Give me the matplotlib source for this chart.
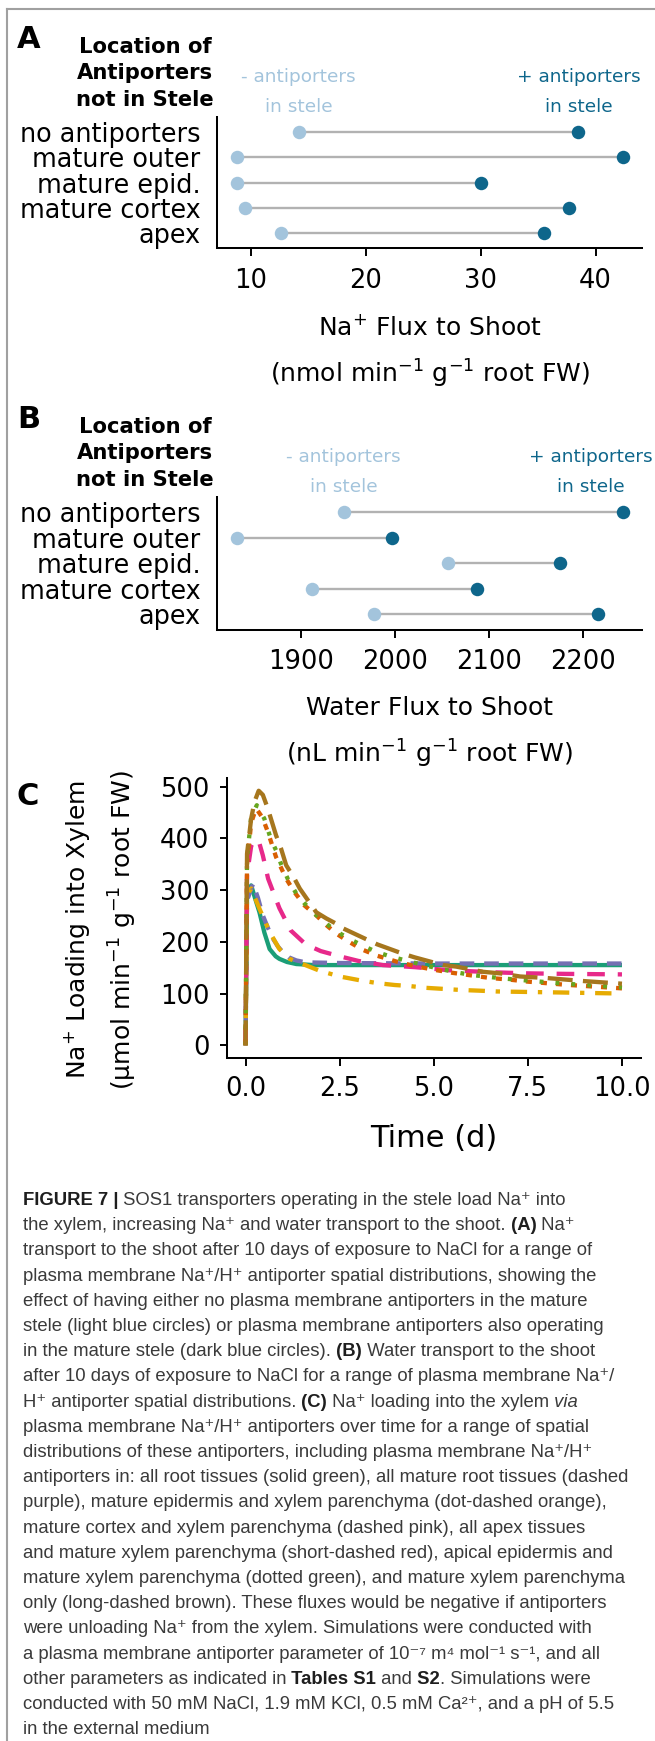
import matplotlib
matplotlib.use('Agg')
import matplotlib.pyplot as plt
from matplotlib import transforms
from matplotlib.lines import Line2D

W, H = 655, 1741
LIGHT, DARK, SEG = '#a3c4dc', '#0e668b', '#b2b2b2'

# ---- panels A / B: flux after 10 d, without / with antiporters in stele
rows = ['no antiporters', 'mature outer', 'mature epid.', 'mature cortex', 'apex']
na_without = [14.15, 8.75, 8.75, 9.52, 12.58]
na_with = [38.5, 42.35, 30.03, 37.7, 35.53]
water_without = [1945.0, 1830.9, 2056.0, 1911.6, 1977.1]
water_with = [2241.8, 1996.3, 2175.0, 2087.2, 2215.9]

# ---- panel C: Na+ loading into xylem over time (d)
t_all = [0, 0.04, 0.15, 0.25, 0.37, 0.5, 0.64, 0.8, 0.9, 1.1, 1.35, 1.6, 1.8, 2.5, 5.0, 7.5, 10.0]
v_all = [0, 290, 309, 285, 257, 218, 186, 172, 167, 161, 157, 156, 155, 155, 155, 155, 155]
t_mat = [0, 0.04, 0.2, 0.33, 0.46, 0.6, 0.73, 0.86, 0.99, 1.15, 1.35, 1.55, 1.8, 2.5, 5.0, 7.5, 10.0]
v_mat = [0, 280, 312, 285, 251, 226, 206, 191, 180, 170, 164, 161, 160, 159, 158, 158, 158]
t_epi = [0, 0.04, 0.15, 0.37, 0.64, 0.9, 1.17, 1.52, 1.97, 2.5, 3.08, 3.52, 3.96, 4.36, 4.8,
         5.25, 5.69, 6.22, 6.67, 7.1, 8.4, 10.0]
v_epi = [0, 290, 303, 264, 219, 186, 167, 157, 144, 133, 125, 120, 116.5, 114.5, 111,
         109, 107, 105.5, 104, 103.5, 102, 100]
t_cor = [0, 0.04, 0.15, 0.25, 0.37, 0.46, 0.6, 0.9, 1.2, 1.6, 2.0, 2.5, 3.0, 3.65, 4.5,
         5.4, 6.6, 7.5, 8.5, 10.0]
v_cor = [0, 330, 385, 398, 390, 367, 322, 265, 222, 195, 182, 172, 163, 155, 151,
         145, 141, 139, 138, 137]
t_apx = [0, 0.04, 0.15, 0.28, 0.45, 0.59, 0.81, 1.08, 1.3, 1.57, 1.88, 2.15, 2.41, 2.68,
         3.1, 3.5, 4.0, 4.5, 5.0, 5.5, 6.0, 6.5, 7.0, 7.5, 8.5, 10.0]
v_apx = [0, 350, 430, 458, 440, 413, 364, 322, 296, 270, 251, 232, 216, 203,
         185, 173, 162, 153, 146, 140, 135, 130, 127, 123, 117, 110]
t_ape = [0, 0.04, 0.15, 0.3, 0.5, 0.68, 0.81, 0.94, 1.12, 1.35, 1.57, 1.84, 2.1, 2.37,
         2.75, 3.1, 3.46, 3.83, 4.25, 4.67, 5.09, 5.53, 5.98, 6.43, 6.86, 7.5, 8.5, 10.0]
v_ape = [0, 360, 442, 464, 438, 397, 377, 351, 322, 293, 274, 254, 238, 222,
         206, 193, 181, 172, 164, 156, 149, 142, 136, 132.5, 129, 125, 119, 112]
t_xp = [0, 0.04, 0.15, 0.24, 0.35, 0.46, 0.59, 0.81, 0.94, 1.08, 1.3, 1.44, 1.66, 1.88,
        2.15, 2.41, 2.59, 3.0, 3.5, 4.18, 4.49, 5.25, 5.6, 6.31, 6.76, 7.29, 8.0, 9.0, 10.0]
v_xp = [0, 370, 438, 471, 492, 484, 458, 406, 381, 348, 322, 303, 280, 257,
        245, 235, 226, 212, 195, 177, 170, 155, 152, 142, 139, 133, 130, 124, 119]

series = [(t_all, v_all), (t_mat, v_mat), (t_epi, v_epi), (t_cor, v_cor),
          (t_apx, v_apx), (t_ape, v_ape), (t_xp, v_xp)]
styles = [('#1B9E77', '-'), ('#7570B3', (0, (3.4, 2.3))), ('#E6AB02', (0, (3.8, 2.5, 1.0, 2.5))),
          ('#E7298A', (0, (4.1, 3.0))), ('#D95F02', (0, (1.4, 2.1))),
          ('#66A61E', (0, (0.9, 2.8))), ('#A6761D', (0, (5.8, 2.4)))]

caption = [
    [('FIGURE 7 |', 'b'), (' SOS1 transporters operating in the stele load Na⁺ into', 'n')],
    [('the xylem, increasing Na⁺ and water transport to the shoot.', 'n'), (' (A)', 'b'), (' Na⁺', 'n')],
    [('transport to the shoot after 10 days of exposure to NaCl for a range of', 'n')],
    [('plasma membrane Na⁺/H⁺ antiporter spatial distributions, showing the', 'n')],
    [('effect of having either no plasma membrane antiporters in the mature', 'n')],
    [('stele (light blue circles) or plasma membrane antiporters also operating', 'n')],
    [('in the mature stele (dark blue circles).', 'n'), (' (B)', 'b'), (' Water transport to the shoot', 'n')],
    [('after 10 days of exposure to NaCl for a range of plasma membrane Na⁺/', 'n')],
    [('H⁺ antiporter spatial distributions.', 'n'), (' (C)', 'b'),
     (' Na⁺ loading into the xylem', 'n'), (' via', 'i')],
    [('plasma membrane Na⁺/H⁺ antiporters over time for a range of spatial', 'n')],
    [('distributions of these antiporters, including plasma membrane Na⁺/H⁺', 'n')],
    [('antiporters in: all root tissues (solid green), all mature root tissues (dashed', 'n')],
    [('purple), mature epidermis and xylem parenchyma (dot-dashed orange),', 'n')],
    [('mature cortex and xylem parenchyma (dashed pink), all apex tissues', 'n')],
    [('and mature xylem parenchyma (short-dashed red), apical epidermis and', 'n')],
    [('mature xylem parenchyma (dotted green), and mature xylem parenchyma', 'n')],
    [('only (long-dashed brown). These fluxes would be negative if antiporters', 'n')],
    [('were unloading Na⁺ from the xylem. Simulations were conducted with', 'n')],
    [('a plasma membrane antiporter parameter of 10⁻⁷ m⁴ mol⁻¹ s⁻¹, and all', 'n')],
    [('other parameters as indicated in', 'n'), (' Tables S1', 'b'), (' and', 'n'),
     (' S2', 'b'), ('. Simulations were', 'n')],
    [('conducted with 50 mM NaCl, 1.9 mM KCl, 0.5 mM Ca²⁺, and a pH of 5.5', 'n')],
    [('in the external medium', 'n')],
]

plt.rcParams['font.family'] = ['DejaVu Sans']
plt.rcParams['mathtext.fontset'] = 'dejavusans'

fig = plt.figure(figsize=(W / 100, H / 100), dpi=100)


def box(l, t, r, b):
    return [l / W, 1 - b / H, (r - l) / W, (b - t) / H]


def ftext(x, y, s, **kw):
    kw.setdefault('va', 'baseline')
    return fig.text(x / W, 1 - y / H, s, **kw)


def style_axes(ax):
    for side in ('top', 'right'):
        ax.spines[side].set_visible(False)
    for side in ('left', 'bottom'):
        ax.spines[side].set_linewidth(1.45)
    ax.patch.set_alpha(0)


def dumbbell(rect, lo, hi, dy, letter, lab1, lab2, plus_x):
    ax = fig.add_axes(box(*rect))
    y = list(range(len(rows)))
    ax.hlines(y, lo, hi, color=SEG, lw=1.7, zorder=1)
    ax.plot(lo, y, 'o', ls='none', color=LIGHT, ms=9.7, mec='none', zorder=2)
    ax.plot(hi, y, 'o', ls='none', color=DARK, ms=9.7, mec='none', zorder=2)
    allv = lo + hi
    pad = 0.05 * (max(allv) - min(allv))
    ax.set_xlim(min(allv) - pad, max(allv) + pad)
    ax.set_ylim(len(rows) - 1 + 0.6, -0.6)
    ax.set_yticks(y, rows)
    ax.tick_params(axis='y', length=0, pad=12, labelsize=18.4)
    ax.tick_params(axis='x', length=5.4, width=1.4, pad=8.5, labelsize=18.5)
    style_axes(ax)
    ftext(17, 48 + dy, letter, fontsize=22, fontweight='bold')
    for i, s in enumerate(['Location of', 'Antiporters', 'not in Stele']):
        ftext(145, 52.7 + dy + 26.7 * i, s, fontsize=15.2, fontweight='bold', ha='center')
    tr = transforms.blended_transform_factory(ax.transData, fig.transFigure)
    fig.text(lo[0], 1 - (81.7 + dy) / H, '- antiporters', transform=tr, ha='center',
             va='baseline', color=LIGHT, fontsize=13.3)
    fig.text(lo[0], 1 - (112.3 + dy) / H, 'in stele', transform=tr, ha='center',
             va='baseline', color=LIGHT, fontsize=13.3)
    fig.text(plus_x, 1 - (81.7 + dy) / H, '+ antiporters', transform=tr, ha='center',
             va='baseline', color=DARK, fontsize=13.3)
    fig.text(plus_x, 1 - (112.3 + dy) / H, 'in stele', transform=tr, ha='center',
             va='baseline', color=DARK, fontsize=13.3)
    cx = (rect[0] + rect[2]) / 2
    ftext(cx, 335 + dy, lab1, fontsize=18, ha='center')
    ftext(cx, 382.5 + dy, lab2, fontsize=18, ha='center')
    return ax


dumbbell((217.2, 116.7, 642, 248.3), na_without, na_with, 0, 'A',
         r'Na$^{+}$ Flux to Shoot', r'(nmol min$^{-1}$ g$^{-1}$ root FW)', na_with[0])
dumbbell((217.2, 496.7, 642, 629.5), water_without, water_with, 380, 'B',
         'Water Flux to Shoot', r'(nL min$^{-1}$ g$^{-1}$ root FW)', 2208)

# ---- panel C
axc = fig.add_axes(box(226.7, 778, 640.8, 1058))
for (t, v), (col, ls) in zip(series, styles):
    axc.plot(t, v, color=col, lw=3.1, linestyle=ls, solid_capstyle='butt', dash_capstyle='butt')
ymax = max(max(v) for _, v in series)
axc.set_xlim(-0.5, 10.5)
axc.set_ylim(-0.05 * ymax, 1.05 * ymax)
axc.set_xticks([0, 2.5, 5, 7.5, 10], ['0.0', '2.5', '5.0', '7.5', '10.0'])
axc.set_yticks(range(0, 501, 100))
axc.tick_params(length=5.4, width=1.4, labelsize=18.5)
axc.tick_params(axis='x', pad=7.5)
axc.tick_params(axis='y', pad=7)
style_axes(axc)
ftext(17, 805, 'C', fontsize=22, fontweight='bold')
ftext(77, 930, r'Na$^{+}$ Loading into Xylem', rotation=90, ha='center', va='center', fontsize=18)
ftext(122.5, 930, r'(μmol min$^{-1}$ g$^{-1}$ root FW)', rotation=90, ha='center', va='center',
      fontsize=18)
ftext(434, 1146.7, 'Time (d)', fontsize=22, ha='center')

# ---- caption
renderer = fig.canvas.get_renderer()
cap_font = ['Liberation Sans', 'DejaVu Sans']
for i, segs in enumerate(caption):
    x = 23
    y = 1205 + 25.2 * i
    for s, kind in segs:
        t = ftext(x, y, s, fontsize=13.3, family=cap_font,
                  fontweight='bold' if kind == 'b' else 'normal',
                  fontstyle='italic' if kind == 'i' else 'normal',
                  color='#1e1e1e' if kind == 'b' else '#3a3a3a')
        x += t.get_window_extent(renderer).width

# ---- page frame (left and top rules)
fig.add_artist(Line2D([7 / W, 1], [1 - 8.5 / H] * 2, transform=fig.transFigure, color='#a0a0a0', lw=1.5))
fig.add_artist(Line2D([7 / W] * 2, [0, 1 - 8.5 / H], transform=fig.transFigure, color='#a0a0a0', lw=1.5))

fig.savefig('out.png', dpi=100)
